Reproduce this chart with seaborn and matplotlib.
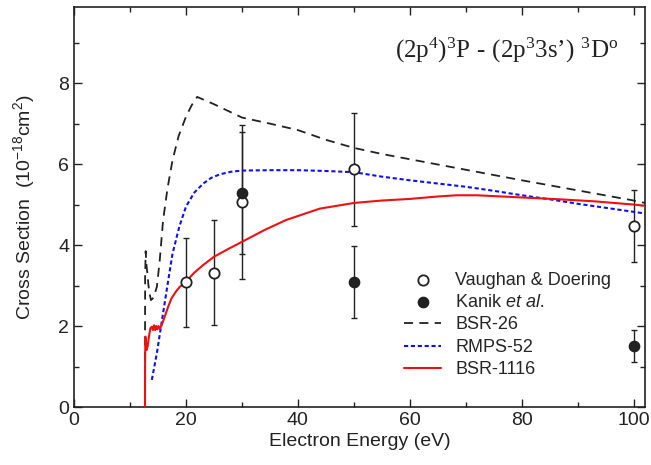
import matplotlib
matplotlib.use("Agg")
import matplotlib.pyplot as plt
from matplotlib.ticker import MultipleLocator
import seaborn as sns
import pandas as pd

# Experimental cross sections (eV, 1e-18 cm^2) with error bars
vd_energy = [20, 25, 30, 50, 100]
vd_cross = [3.08, 3.32, 5.06, 5.87, 4.48]
vd_err = [1.10, 1.30, 1.90, 1.40, 0.89]

kanik_energy = [30, 50, 100]
kanik_cross = [5.29, 3.09, 1.51]
kanik_err = [1.50, 0.89, 0.39]

# Theoretical curves
bsr26_energy = [12.68, 12.70, 12.8, 12.95, 13.1, 13.3, 13.5, 13.75, 14.2, 14.8,
                15.3, 15.9, 16.7, 17.6, 18.7, 20.0, 21.0, 22.0, 25, 30, 35, 40,
                45, 50, 55, 60, 70, 80, 90, 100, 102]
bsr26_cross = [0, 3.2, 3.85, 3.5, 3.3, 3.0, 2.8, 2.64, 2.7, 2.97,
               3.6, 4.6, 5.4, 6.1, 6.7, 7.17, 7.45, 7.66, 7.48, 7.15, 7.0, 6.84,
               6.6, 6.4, 6.25, 6.12, 5.86, 5.6, 5.35, 5.1, 5.04]

rmps52_energy = [13.9, 14.8, 15.9, 16.8, 17.6, 18.8, 20.0, 21.5, 23.1, 24.5,
                 26.1, 28, 30, 35, 40, 45, 50, 55, 60, 65, 70, 75, 80, 85, 90,
                 95, 100, 102]
rmps52_cross = [0.67, 1.33, 2.31, 3.1, 3.79, 4.45, 4.95, 5.3, 5.52, 5.66,
                5.75, 5.81, 5.84, 5.85, 5.85, 5.83, 5.8, 5.69, 5.6, 5.52, 5.44,
                5.34, 5.23, 5.13, 5.02, 4.92, 4.82, 4.78]

bsr1116_energy = [12.68, 12.69, 12.75, 12.85, 12.98, 13.15, 13.4, 13.65, 13.9,
                  14.1, 14.3, 14.5, 14.7, 14.9, 15.1, 15.3, 15.6, 16.2, 16.8,
                  17.4, 18.2, 18.9, 20.0, 21.5, 23.1, 25, 27.5, 30, 34, 37.9,
                  43.9, 50, 55, 60, 65, 68.3, 72, 77.9, 86.8, 93, 100, 102]
bsr1116_cross = [0, 1.0, 1.74, 1.6, 1.41, 1.5, 1.75, 1.95, 1.98,
                 1.9, 2.02, 1.9, 2.0, 1.92, 2.0, 1.93, 2.0, 2.23, 2.47,
                 2.68, 2.85, 2.97, 3.1, 3.32, 3.51, 3.71, 3.9, 4.08, 4.37, 4.62,
                 4.9, 5.04, 5.1, 5.14, 5.2, 5.23, 5.23, 5.19, 5.13, 5.08, 5.0, 4.97]

sns.set_style("ticks")
plt.rcParams["font.family"] = ["Liberation Sans", "DejaVu Sans"]
plt.rcParams["mathtext.fontset"] = "custom"
plt.rcParams["mathtext.rm"] = "Liberation Serif"
plt.rcParams["mathtext.it"] = "Liberation Sans:italic"
plt.rcParams["mathtext.sf"] = "Liberation Sans"

fig = plt.figure(figsize=(6.51, 4.65), dpi=100)
ax = fig.add_axes([0.1137, 0.1247, 0.8771, 0.8602])

vd = pd.DataFrame({"E": vd_energy, "Q": vd_cross})
kn = pd.DataFrame({"E": kanik_energy, "Q": kanik_cross})

ax.errorbar(vd_energy, vd_cross, yerr=vd_err, fmt="none", ecolor="#222222",
            elinewidth=1.0, capsize=2.5, capthick=1.0, zorder=3)
ax.errorbar(kanik_energy, kanik_cross, yerr=kanik_err, fmt="none",
            ecolor="#222222", elinewidth=1.0, capsize=2.5, capthick=1.0, zorder=3)

sns.scatterplot(data=vd, x="E", y="Q", ax=ax, marker="o", s=55,
                facecolor="white", edgecolor="#222222", linewidth=1.3,
                label="Vaughan & Doering", zorder=5)
sns.scatterplot(data=kn, x="E", y="Q", ax=ax, marker="o", s=55,
                color="#222222", edgecolor="#222222", linewidth=1.0,
                label=r"Kanik $\mathit{et\ al.}$", zorder=5)

sns.lineplot(x=bsr26_energy, y=bsr26_cross, ax=ax, sort=False, estimator=None,
             color="#222222", lw=1.3, linestyle=(0, (5, 3.5)),
             label="BSR-26", zorder=4)
sns.lineplot(x=rmps52_energy, y=rmps52_cross, ax=ax, sort=False, estimator=None,
             color="#1010ee", lw=1.5, linestyle=(0, (2, 1.3)),
             label="RMPS-52", zorder=4)
sns.lineplot(x=bsr1116_energy, y=bsr1116_cross, ax=ax, sort=False,
             estimator=None, color="#ee1111", lw=1.5, label="BSR-1116", zorder=4)

ax.set_xlim(0, 102)
ax.set_ylim(0, 9.88)
ax.xaxis.set_major_locator(MultipleLocator(20))
ax.xaxis.set_minor_locator(MultipleLocator(10))
ax.yaxis.set_major_locator(MultipleLocator(2))
ax.yaxis.set_minor_locator(MultipleLocator(1))
ax.tick_params(which="both", direction="in", top=True, right=True,
               labelsize=14, colors="#222222", width=1.0)
ax.tick_params(which="major", length=6)
ax.tick_params(which="minor", length=3.5)
for sp in ax.spines.values():
    sp.set_linewidth(1.2)
    sp.set_color("#222222")

ax.set_xlabel("Electron Energy (eV)", fontsize=14, color="#222222", labelpad=3)
ax.set_ylabel(r"Cross Section  (10$^{\mathsf{-18}}$cm$^{\mathsf{2}}$)",
              fontsize=14, color="#222222", labelpad=15)

ax.text(0.757, 0.8725,
        "$\\mathrm{(2p^4)^3P\\ \u2010\\ (2p^3 3s\u2019)\\ ^3D^o}$",
        transform=ax.transAxes, ha="center", va="baseline", fontsize=18,
        color="#222222")

ax.legend(loc="upper left", bbox_to_anchor=(0.555, 0.37), frameon=False,
          fontsize=13, handlelength=2.1, handletextpad=0.75, labelspacing=0.3,
          borderpad=0.2)

fig.savefig("out.png", dpi=100)
